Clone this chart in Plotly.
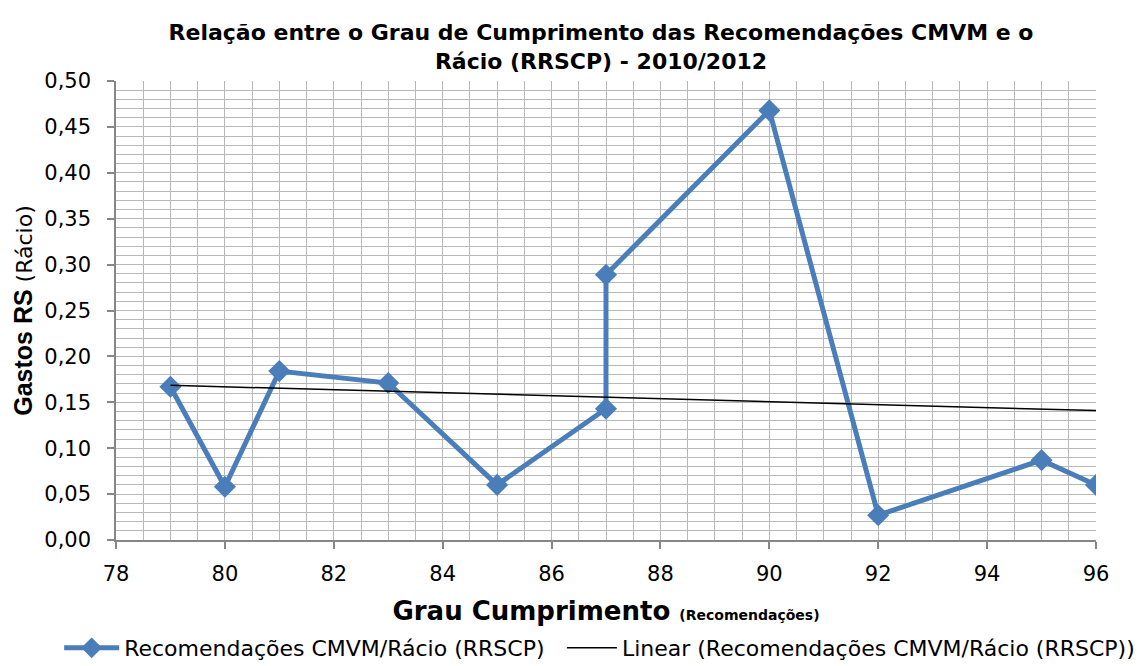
import numpy as np
import plotly.graph_objects as go

grau = [79, 80, 81, 83, 85, 87, 87, 90, 92, 95, 96]
racio = [0.167, 0.058, 0.184, 0.171, 0.060, 0.143, 0.289, 0.468, 0.027, 0.087, 0.060]
x_ticks = [78, 80, 82, 84, 86, 88, 90, 92, 94, 96]

slope, intercept = np.polyfit(grau, racio, 1)
trend_x = [min(grau), max(grau)]
trend_y = [slope * v + intercept for v in trend_x]

fig = go.Figure()
fig.add_trace(go.Scatter(
    x=grau, y=racio, mode="lines+markers",
    name="Recomendações CMVM/Rácio (RRSCP)",
    line=dict(color="#4a7ebb", width=5),
    marker=dict(symbol="diamond", size=17, color="#4a7ebb"),
    legend="legend",
))
fig.add_trace(go.Scatter(
    x=trend_x, y=trend_y, mode="lines",
    name="Linear (Recomendações CMVM/Rácio (RRSCP))",
    line=dict(color="black", width=1.5),
    legend="legend2",
))

grid = "#b8b8b8"
W, H = 1135, 662
leg_font = dict(family="DejaVu Sans, sans-serif", size=22, color="black")
fig.update_layout(
    width=W, height=H,
    margin=dict(l=108, r=47, t=73, b=H - 532, autoexpand=False),
    paper_bgcolor="white", plot_bgcolor="white",
    separators=",.",
    font=dict(family="DejaVu Sans, sans-serif", size=21, color="black"),
    title=dict(
        text="Relação entre o Grau de Cumprimento das Recomendações CMVM e o<br>Rácio (RRSCP) - 2010/2012",
        x=593 / W, xanchor="center", y=1 - 32 / H, yanchor="top",
        font=dict(family="DejaVu Sans, sans-serif", size=22, color="black", weight="bold"),
    ),
    showlegend=True,
    legend=dict(orientation="h", x=-0.058, xanchor="left", y=-0.2353, yanchor="middle",
                font=leg_font, itemwidth=55, bgcolor="rgba(0,0,0,0)"),
    legend2=dict(orientation="h", x=0.455, xanchor="left", y=-0.2353, yanchor="middle",
                 font=leg_font, itemwidth=50, bgcolor="rgba(0,0,0,0)"),
    xaxis=dict(
        range=[78, 96], tickvals=x_ticks, ticks="outside", ticklen=7, tickcolor="#868686",
        tickwidth=1.5, ticklabelstandoff=7,
        showline=True, linecolor="#868686", linewidth=1.5,
        showgrid=True, gridcolor=grid, gridwidth=1.2,
        minor=dict(dtick=0.5, showgrid=True, gridcolor=grid, gridwidth=1.2),
        zeroline=False,
        title=dict(text="<b>Grau Cumprimento <span style='font-size:14px'>(Recomendações)</span></b>",
                   font=dict(family="DejaVu Sans, sans-serif", size=26), standoff=17),
    ),
    yaxis=dict(
        range=[0, 0.5], dtick=0.05, tickformat=".2f", ticks="outside", ticklen=7, tickcolor="#868686",
        tickwidth=1.5, ticklabelstandoff=12,
        showline=True, linecolor="#868686", linewidth=1.5,
        showgrid=True, gridcolor=grid, gridwidth=1.2,
        minor=dict(dtick=0.01, showgrid=True, gridcolor=grid, gridwidth=1.2),
        zeroline=False,
        title=dict(text="<b>Gastos RS</b> <span style='font-family:DejaVu Sans;font-size:22px;font-weight:normal'>(Rácio)</span>",
                   font=dict(family="Liberation Sans, Arial, sans-serif", size=25), standoff=5),
    ),
)
fig.write_html("out.html")
